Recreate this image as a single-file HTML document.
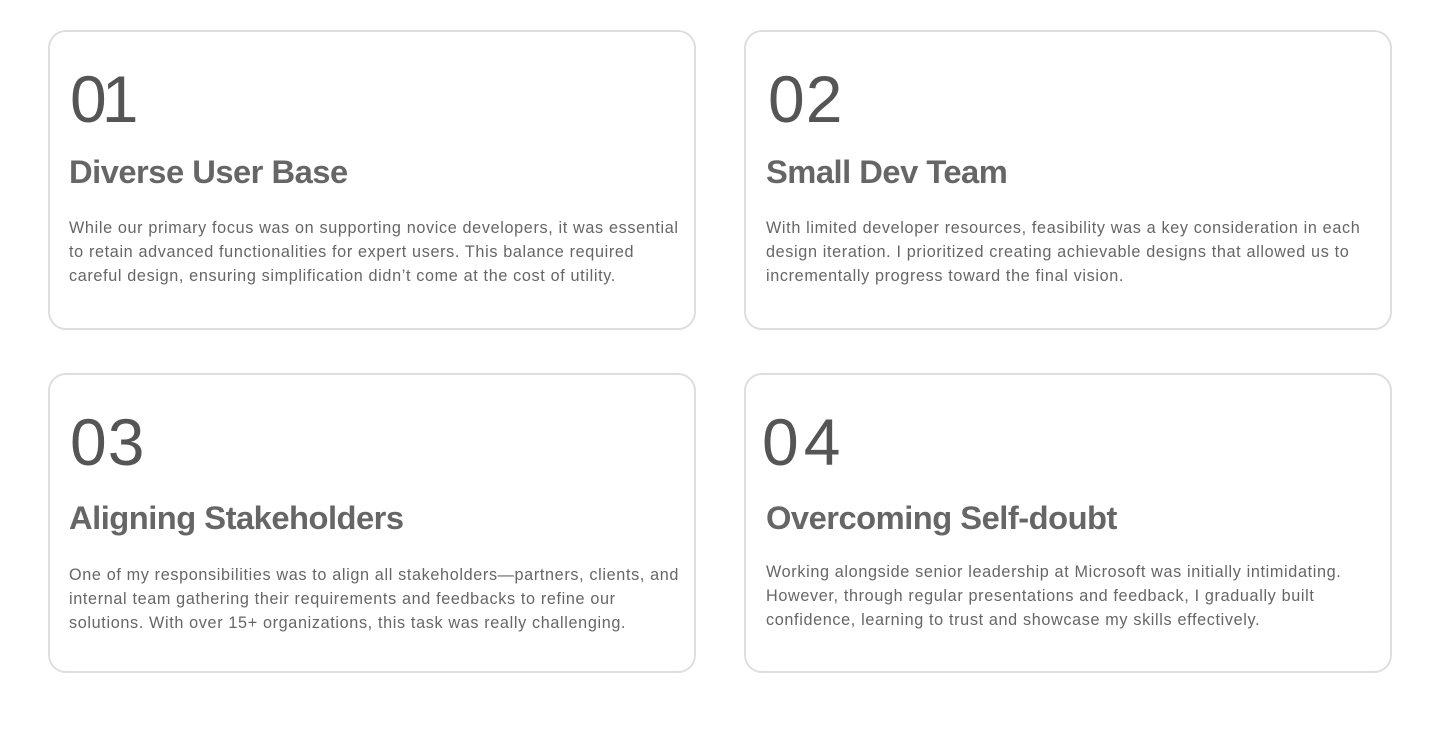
<!DOCTYPE html>
<html><head><meta charset="utf-8"><style>
html,body{margin:0;padding:0;background:#fff;width:1440px;height:745px;overflow:hidden;font-family:"Liberation Sans",sans-serif;}
.card{position:absolute;width:648px;height:300px;border:2px solid #dedede;border-radius:18px;box-sizing:border-box;}
.num{position:absolute;left:20px;top:34px;font-size:66px;color:#555;line-height:1;letter-spacing:1px;}
.title{position:absolute;left:19px;top:124px;font-size:32.7px;font-weight:bold;color:#666;line-height:1;letter-spacing:-0.5px;white-space:nowrap;}
.body{position:absolute;left:19px;top:184px;width:630px;font-size:16.2px;line-height:24px;color:#666;letter-spacing:0.65px;white-space:nowrap;}
</style></head><body>
<div class="card" style="left:48px;top:30px">
<div class="num" style="letter-spacing:-5px">01</div>
<div class="title">Diverse User Base</div>
<div class="body">While our primary focus was on supporting novice developers, it was essential<br>to retain advanced functionalities for expert users. This balance required<br>careful design, ensuring simplification didn’t come at the cost of utility.</div>
</div>
<div class="card" style="left:744px;top:30px">
<div class="num" style="left:22px">02</div>
<div class="title" style="left:20px">Small Dev Team</div>
<div class="body" style="left:20px">With limited developer resources, feasibility was a key consideration in each<br>design iteration. I prioritized creating achievable designs that allowed us to<br>incrementally progress toward the final vision.</div>
</div>
<div class="card" style="left:48px;top:373px">
<div class="num">03</div>
<div class="title" style="top:127px">Aligning Stakeholders</div>
<div class="body" style="top:188px">One of my responsibilities was to align all stakeholders—partners, clients, and<br>internal team gathering their requirements and feedbacks to refine our<br>solutions. With over 15+ organizations, this task was really challenging.</div>
</div>
<div class="card" style="left:744px;top:373px">
<div class="num" style="left:16px;letter-spacing:5px">04</div>
<div class="title" style="left:20px;top:127px">Overcoming Self-doubt</div>
<div class="body" style="left:20px;top:185px">Working alongside senior leadership at Microsoft was initially intimidating.<br>However, through regular presentations and feedback, I gradually built<br>confidence, learning to trust and showcase my skills effectively.</div>
</div>
</body></html>
